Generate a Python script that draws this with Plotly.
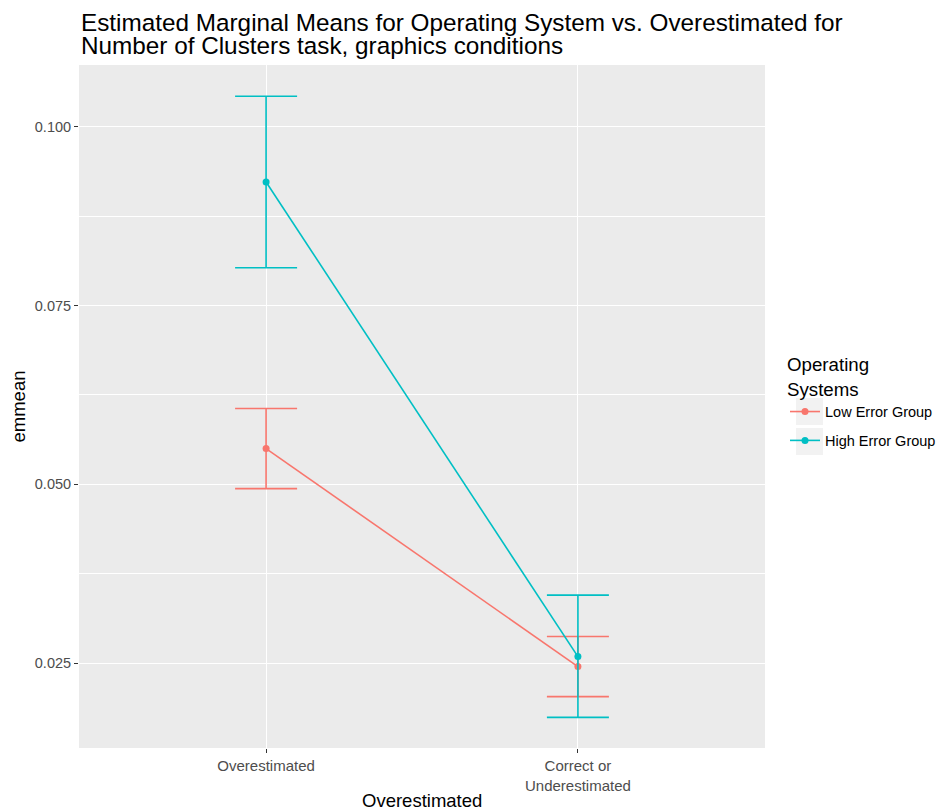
import plotly.graph_objects as go

categories = ["Overestimated", "Correct or<br>Underestimated"]
groups = ["Low Error Group", "High Error Group"]
colors = ["#F8766D", "#00BFC4"]

low_mean = [0.0550, 0.0245]
low_upper = [0.0606, 0.0287]
low_lower = [0.0494, 0.0203]

high_mean = [0.0923, 0.0259]
high_upper = [0.1043, 0.0345]
high_lower = [0.0803, 0.0174]

y_ticks = [0.025, 0.050, 0.075, 0.100]
y_tick_labels = ["0.025", "0.050", "0.075", "0.100"]

title_lines = ["Estimated Marginal Means for Operating System vs. Overestimated for",
               "Number of Clusters task, graphics conditions"]
x_title = "Overestimated"
y_title = "emmean"
legend_title = "Operating<br>Systems"

series = [
    (groups[0], low_mean, low_upper, low_lower, colors[0]),
    (groups[1], high_mean, high_upper, high_lower, colors[1]),
]

# page body has an 8px margin, so the figure is 939x804 drawn at (8, 8)
W, H = 939, 804
L, R, T, B = 71, 182, 57, 64
PW, PH = W - L - R, H - T - B

fig = go.Figure()
for name, mean, up, lo, col in series:
    fig.add_trace(go.Scatter(
        x=categories, y=mean, name=name, mode="lines+markers",
        legendgroup=name,
        line=dict(color=col, width=1.6),
        marker=dict(color=col, size=7),
        error_y=dict(type="data", symmetric=False,
                     array=[u - m for u, m in zip(up, mean)],
                     arrayminus=[m - l for m, l in zip(mean, lo)],
                     color=col, thickness=1.6, width=31),
    ))

# Title as two lines (tight ggplot-like line spacing)
for i, line in enumerate(title_lines):
    fig.add_annotation(
        text=line, xref="paper", yref="paper", x=0, xanchor="left",
        y=1 + (T - (14.5 + 23 * i)) / PH, yanchor="middle", showarrow=False,
        font=dict(size=24.3, color="black"),
    )

# axis titles
fig.add_annotation(text=x_title, xref="paper", yref="paper", x=0.5, xanchor="center",
                   y=-52 / PH, yanchor="middle", showarrow=False,
                   font=dict(size=18.5, color="black"))
fig.add_annotation(text=y_title, xref="paper", yref="paper", x=(10 - L) / PW,
                   xanchor="center", y=0.5, yanchor="middle", showarrow=False,
                   textangle=-90, font=dict(size=18.5, color="black"))

# ggplot-style legend key backgrounds
for top in (390, 420):
    fig.add_shape(type="rect", xref="paper", yref="paper",
                  x0=(788 - L) / PW, x1=(815 - L) / PW,
                  y0=1 - (top - T) / PH, y1=1 - (top + 27 - T) / PH,
                  fillcolor="#F2F2F2", line=dict(width=0), layer="below")

fig.update_layout(
    width=W, height=H,
    margin=dict(l=L, r=R, t=T, b=B),
    paper_bgcolor="white", plot_bgcolor="#EBEBEB",
    font=dict(family="Liberation Sans, Arial, sans-serif", color="black"),
    legend=dict(
        title=dict(text=legend_title, font=dict(size=18.7)),
        xref="container", yref="container",
        x=777 / W, xanchor="left", y=1 - 339 / H, yanchor="top",
        font=dict(size=14.5), bgcolor="rgba(0,0,0,0)",
        traceorder="grouped", tracegroupgap=7,
    ),
    showlegend=True,
)

fig.update_xaxes(
    type="category", range=[-0.6, 1.6], automargin=False,
    showgrid=True, gridcolor="white", gridwidth=1.3,
    ticks="outside", ticklen=4, tickcolor="#333333", tickwidth=1.2,
    tickfont=dict(size=15, color="#4D4D4D"),
    zeroline=False, showline=False,
)
fig.update_yaxes(
    range=[0.01311, 0.10867], automargin=False,
    tickvals=y_ticks, ticktext=y_tick_labels,
    showgrid=True, gridcolor="white", gridwidth=1.3,
    ticks="outside", ticklen=4, tickcolor="#333333", tickwidth=1.2,
    tickfont=dict(size=14.5, color="#4D4D4D"),
    minor=dict(tickvals=[0.0125, 0.0375, 0.0625, 0.0875], showgrid=True,
               gridcolor="white", gridwidth=0.6, ticks=""),
    zeroline=False, showline=False,
)

fig.write_html("out.html")
